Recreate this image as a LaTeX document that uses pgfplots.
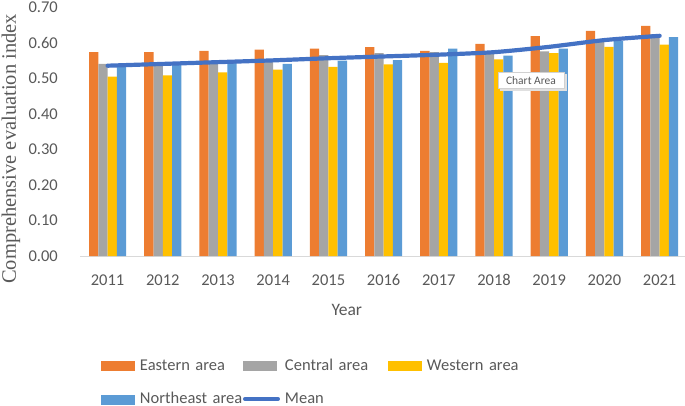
\documentclass[border=0pt]{standalone}
\usepackage{fontspec}
\usepackage{pgfplots}
\pgfplotsset{compat=1.18}
\newfontfamily\carlito{Carlito}
\newfontfamily\tnr{Liberation Serif}
\definecolor{cE}{HTML}{ED7D31}
\definecolor{cC}{HTML}{A5A5A5}
\definecolor{cW}{HTML}{FFC000}
\definecolor{cN}{HTML}{5B9BD5}
\definecolor{cM}{HTML}{4472C4}
\definecolor{txt}{HTML}{595959}
\definecolor{axl}{HTML}{D9D9D9}
\begin{document}
\begin{tikzpicture}[x=1bp,y=1bp]
\path[use as bounding box] (0,0) rectangle (685,405);
\begin{axis}[
  at={(80bp,149bp)}, anchor=south west,
  scale only axis, width=605bp, height=249bp,
  xmin=-0.5, xmax=10.46, ymin=0, ymax=0.7,
  axis x line*=bottom, axis y line*=left,
  x axis line style={draw=axl, line width=1bp},
  y axis line style={draw=none},
  xtick={0,1,2,3,4,5,6,7,8,9,10},
  xticklabels={2011,2012,2013,2014,2015,2016,2017,2018,2019,2020,2021},
  ytick={0,0.1,0.2,0.3,0.4,0.5,0.6,0.7},
  major tick length=0pt, tick style={draw=none},
  /pgf/number format/fixed, /pgf/number format/fixed zerofill, /pgf/number format/precision=2, /pgf/number format/assume math mode=true,
  ticklabel style={font=\carlito\fontsize{16.5bp}{18bp}\selectfont, text=txt, inner sep=0pt},
  yticklabel style={anchor=east, xshift=-22bp},
  xticklabel style={anchor=base, yshift=-29.5bp},
  xlabel={Year},
  every axis x label/.style={at={(axis description cs:0.441,-0.215)}, anchor=center, font=\carlito\fontsize{17.5bp}{20bp}\selectfont, text=txt},
  ylabel={Comprehensive evaluation index},
  every axis y label/.style={at={(axis description cs:-0.114,0.43)}, anchor=center, rotate=90, font=\tnr\fontsize{20.5bp}{22bp}\selectfont, text=txt},
  legend columns=3,
  legend cell align=left,
  legend style={at={(axis description cs:0.0347,-0.4137)}, anchor=north west, draw=none, fill=none, inner sep=0pt, outer sep=0pt,
    font=\carlito\fontsize{16.5bp}{18bp}\selectfont, text=txt, row sep=20.5bp, column sep=0pt,
    nodes={inner sep=0pt, text width=103bp},
    /tikz/every odd column/.append style={column sep=5bp}},
]
\addplot[ybar, bar width=9.3bp, bar shift=-13.95bp, fill=cE, draw=none,
  legend image code/.code={\fill[cE] (0bp,-6bp) rectangle (34bp,4bp);}]
  coordinates {(0,0.573) (1,0.573) (2,0.577) (3,0.580) (4,0.583) (5,0.587) (6,0.577) (7,0.596) (8,0.618) (9,0.633) (10,0.647)};
\addlegendentry{Eastern area}
\addplot[ybar, bar width=9.3bp, bar shift=-4.65bp, fill=cC, draw=none,
  legend image code/.code={\fill[cC] (0bp,-6bp) rectangle (34bp,4bp);}]
  coordinates {(0,0.540) (1,0.538) (2,0.541) (3,0.547) (4,0.565) (5,0.570) (6,0.573) (7,0.568) (8,0.575) (9,0.607) (10,0.624)};
\addlegendentry{Central area}
\addplot[ybar, bar width=9.3bp, bar shift=4.65bp, fill=cW, draw=none,
  legend image code/.code={\fill[cW] (0bp,-6bp) rectangle (34bp,4bp);}]
  coordinates {(0,0.504) (1,0.508) (2,0.516) (3,0.524) (4,0.532) (5,0.539) (6,0.543) (7,0.553) (8,0.570) (9,0.588) (10,0.594)};
\addlegendentry{Western area}
\addplot[ybar, bar width=9.3bp, bar shift=13.95bp, fill=cN, draw=none,
  legend image code/.code={\fill[cN] (0bp,-6bp) rectangle (34bp,4bp);}]
  coordinates {(0,0.535) (1,0.539) (2,0.542) (3,0.540) (4,0.549) (5,0.551) (6,0.583) (7,0.563) (8,0.583) (9,0.605) (10,0.615)};
\addlegendentry{Northeast area}
\addplot[cM, line width=4.2bp, smooth, tension=0.4, mark=none, line cap=round,
  legend image code/.code={\draw[cM, line width=4bp, line cap=round] (2bp,0bp) -- (35bp,0bp);}]
  coordinates {(0,0.535) (1,0.540) (2,0.545) (3,0.550) (4,0.556) (5,0.561) (6,0.566) (7,0.573) (8,0.588) (9,0.607) (10,0.619)};
\addlegendentry{Mean}
\end{axis}
\fill[black!12] (500,314) rectangle (567,331);
\node[draw=black!18, fill=white, line width=0.6bp, minimum width=66bp, minimum height=16bp, inner sep=0pt,
  font=\carlito\fontsize{11.5bp}{13bp}\selectfont, text=txt] at (531,324.5) {Chart Area};
\end{tikzpicture}
\end{document}
